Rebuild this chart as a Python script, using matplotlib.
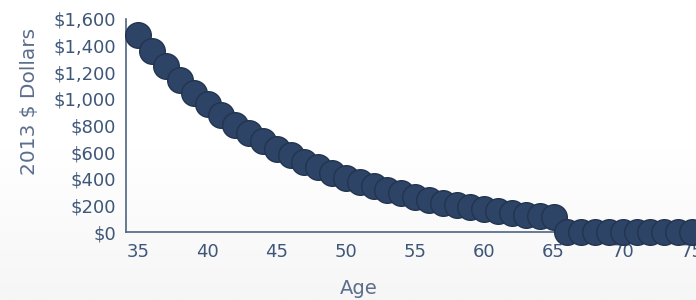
import numpy as np
import matplotlib
matplotlib.use("Agg")
import matplotlib.pyplot as plt
from matplotlib.ticker import FuncFormatter

# Data
ages = list(range(35, 76))
dollars = [1480, 1360, 1245, 1140, 1045, 960, 880, 805, 740, 680,
           625, 575, 525, 485, 445, 405, 375, 345, 315, 290,
           265, 240, 220, 200, 185, 170, 155, 145, 130, 120,
           110,
           0, 0, 0, 0, 0, 0, 0, 0, 0, 0]
x_ticks = [35, 40, 45, 50, 55, 60, 65, 70, 75]
y_ticks = [0, 200, 400, 600, 800, 1000, 1200, 1400, 1600]

marker_color = "#2e4466"
edge_color = "#22344f"
text_color = "#3e5779"
spine_color = "#4d6584"

fig = plt.figure(figsize=(6.96, 3.0), dpi=100)

# subtle background gradient
bg = fig.add_axes([0, 0, 1, 1], zorder=-10)
grad = np.linspace(1.0, 0.0, 256).reshape(-1, 1)
bg.imshow(grad, aspect="auto", cmap=plt.matplotlib.colors.LinearSegmentedColormap.from_list(
    "g", ["#f6f6f6", "#ffffff", "#ffffff"]), extent=[0, 1, 0, 1], vmin=0, vmax=1)
bg.axis("off")

ax = fig.add_axes([126 / 696, 68 / 300, 570 / 696, 213 / 300])
ax.patch.set_alpha(0)
ax.scatter(ages, dollars, s=340, color=marker_color, edgecolors=edge_color,
           linewidths=1.0, clip_on=False, zorder=3)

ax.set_xlim(34.1, 75.3)
ax.set_ylim(0, 1600)
ax.set_xticks(x_ticks)
ax.set_yticks(y_ticks)
ax.yaxis.set_major_formatter(FuncFormatter(lambda v, p: "${:,.0f}".format(v)))

for s in ["top", "right"]:
    ax.spines[s].set_visible(False)
for s in ["left", "bottom"]:
    ax.spines[s].set_color(spine_color)
    ax.spines[s].set_linewidth(1.2)

ax.tick_params(axis="both", length=0, labelsize=13, colors=text_color)
ax.tick_params(axis="y", pad=7)
ax.tick_params(axis="x", pad=8)

fig.text(30 / 696, 1 - 101 / 300, "2013 $ Dollars", rotation=90, fontsize=14.5,
         color="#5b6e8c", ha="center", va="center")
fig.text(359 / 696, 1 - 288 / 300, "Age", fontsize=14, color="#5b6e8c",
         ha="center", va="center")

plt.savefig("out.png", dpi=100)
